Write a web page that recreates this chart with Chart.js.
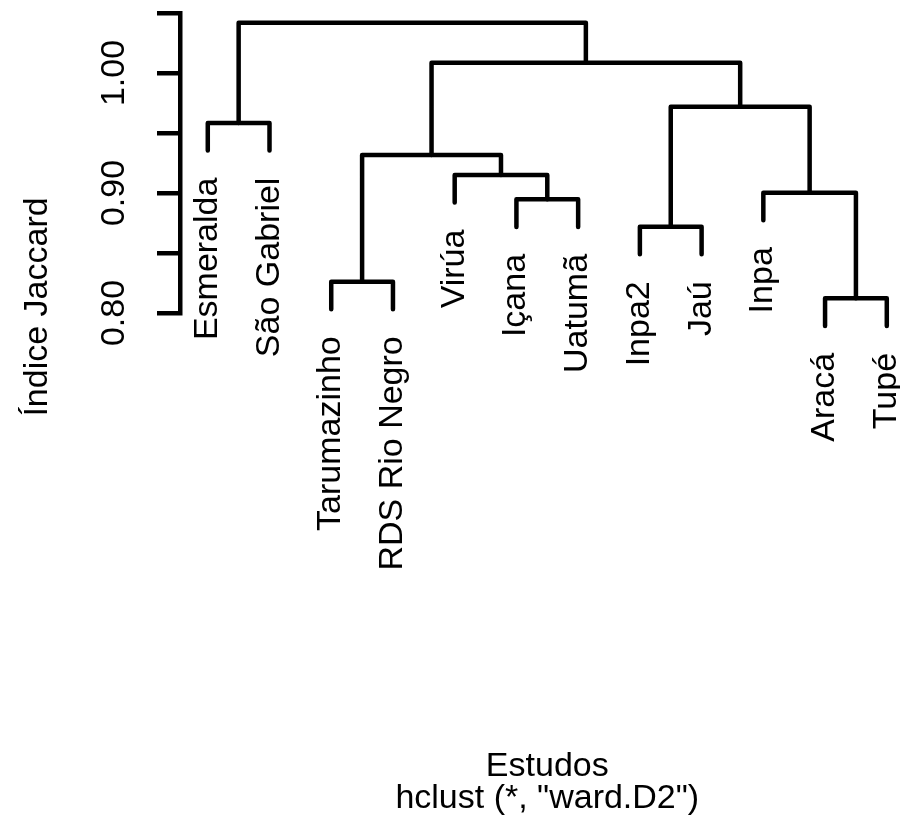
<!DOCTYPE html>
<html>
<head>
<meta charset="utf-8">
<script src="https://cdn.jsdelivr.net/npm/chart.js@4/dist/chart.umd.min.js"></script>
<style>
  html, body { margin: 0; padding: 0; background: #fff; }
  canvas { display: block; }
</style>
</head>
<body>
<canvas id="c" width="900" height="823"></canvas>
<script>
// Study sites, in the order they appear along the dendrogram
const leaves = ['Esmeralda', 'São Gabriel', 'Tarumazinho', 'RDS Rio Negro', 'Virúa', 'Içana',
                'Uatumã', 'Inpa2', 'Jaú', 'Inpa', 'Aracá', 'Tupé'];

// hclust merge table: negative = leaf number (1-based), positive = an earlier merge step
const mergeA = [-11, -3, -8, -6, -10, -5, 2, -1, 3, 7, 8];
const mergeB = [-12, -4, -9, -7, 1, 4, 6, -2, 5, 9, 10];

// Height of each merge step (Jaccard index)
const heights = [0.8122, 0.8261, 0.8719, 0.8947, 0.9003, 0.9150, 0.9317, 0.9583, 0.9719, 1.0086, 1.0419];

// Y axis ticks and their printed labels
const yTicks = [0.80, 0.85, 0.90, 0.95, 1.00, 1.05];
const yTickLabels = ['0.80', '', '0.90', '', '1.00', ''];

const xTitle = 'Estudos';
const subTitle = 'hclust (*, "ward.D2")';
const yTitle = 'Índice Jaccard';

const FONT = '34px "Liberation Sans", Arial, Helvetica, sans-serif';
const LINE_W = 4.5;

// Leaves hang below their parent by 10% of the height range
const hang = 0.1 * (Math.max(...heights) - Math.min(...heights));

// Horizontal position of every node: leaf i sits at x = i, a merge sits midway between its children
const nodeX = [];
const leafEnd = new Array(leaves.length);
function childX(c) { return c < 0 ? -c : nodeX[c - 1]; }
for (let k = 0; k < heights.length; k++) {
  nodeX.push((childX(mergeA[k]) + childX(mergeB[k])) / 2);
}

// One three-segment bracket per merge step
const datasets = heights.map((h, k) => {
  const a = mergeA[k], b = mergeB[k];
  const ya = a < 0 ? h - hang : heights[a - 1];
  const yb = b < 0 ? h - hang : heights[b - 1];
  if (a < 0) leafEnd[-a - 1] = ya;
  if (b < 0) leafEnd[-b - 1] = yb;
  return {
    data: [
      { x: childX(a), y: ya },
      { x: childX(a), y: h },
      { x: childX(b), y: h },
      { x: childX(b), y: yb }
    ],
    showLine: true,
    borderColor: '#000',
    borderWidth: LINE_W,
    borderCapStyle: 'round',
    borderJoinStyle: 'round',
    pointRadius: 0,
    fill: false,
    tension: 0,
    clip: false
  };
});

// Draws the rotated tick labels, leaf labels and titles
const textPlugin = {
  id: 'dendroText',
  afterDraw(chart) {
    const ctx = chart.ctx;
    const xs = chart.scales.x, ys = chart.scales.y;
    const area = chart.chartArea;
    ctx.save();
    ctx.fillStyle = '#000';
    ctx.font = FONT;

    function vtext(str, x, y, align) {
      ctx.save();
      ctx.translate(x, y);
      ctx.rotate(-Math.PI / 2);
      ctx.textAlign = align;
      ctx.textBaseline = 'alphabetic';
      ctx.fillText(str, 0, 0);
      ctx.restore();
    }

    // y tick labels
    yTicks.forEach((v, i) => {
      if (yTickLabels[i]) vtext(yTickLabels[i], area.left - 56, ys.getPixelForValue(v), 'center');
    });

    // leaf labels, hanging below each leaf end
    leaves.forEach((name, i) => {
      vtext(name, xs.getPixelForValue(i + 1) + 9, ys.getPixelForValue(leafEnd[i]) + 27, 'right');
    });

    // axis titles
    const cx = xs.getPixelForValue((1 + leaves.length) / 2);
    ctx.textAlign = 'center';
    ctx.textBaseline = 'alphabetic';
    ctx.fillText(xTitle, cx, 776);
    ctx.fillText(subTitle, cx, 808);
    vtext(yTitle, 47, 307, 'center');

    ctx.restore();
  }
};

new Chart(document.getElementById('c'), {
  type: 'scatter',
  data: { datasets },
  options: {
    responsive: false,
    devicePixelRatio: 1,
    animation: false,
    events: [],
    layout: { padding: { left: 0, top: 13, right: 0, bottom: 510 } },
    plugins: { legend: { display: false }, tooltip: { enabled: false }, title: { display: false } },
    scales: {
      x: { type: 'linear', min: 0.55, max: 12.214, display: false },
      y: {
        type: 'linear',
        position: 'left',
        min: 0.80,
        max: 1.05,
        afterBuildTicks(scale) { scale.ticks = yTicks.map(v => ({ value: v })); },
        afterFit(scale) { scale.width = 180; },
        ticks: { display: false },
        grid: {
          display: true,
          drawOnChartArea: false,
          drawTicks: true,
          tickLength: 23,
          lineWidth: LINE_W,
          color: '#000'
        },
        border: { display: true, color: '#000', width: LINE_W }
      }
    }
  },
  plugins: [textPlugin]
});
</script>
</body>
</html>
